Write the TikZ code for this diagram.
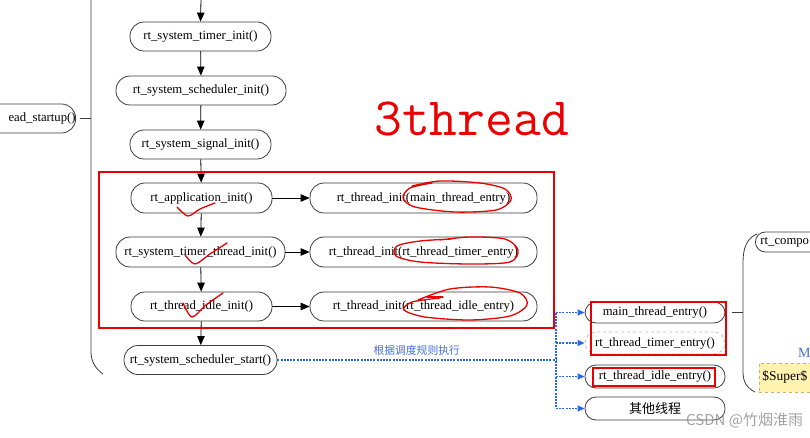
\documentclass[tikz,border=0pt]{standalone}
\usepackage{fontspec}
\setmainfont{Liberation Serif}
\newfontfamily\cjk{Noto Sans CJK SC}
\usetikzlibrary{arrows.meta}
\definecolor{nodeline}{RGB}{60,60,60}
\definecolor{markred}{RGB}{235,0,0}
\definecolor{flowblue}{RGB}{40,105,240}
\definecolor{labelblue}{RGB}{70,110,220}
\definecolor{notefill}{RGB}{255,243,175}
\definecolor{noteline}{RGB}{200,180,110}
\tikzset{
  stadium/.style={draw=nodeline, line width=0.8pt, rounded corners=14pt, minimum height=29pt,
    inner sep=0pt, font=\fontsize{12.7}{14}\selectfont},
  smallstad/.style={stadium, rounded corners=11pt, minimum height=22pt, minimum width=140pt},
  flow/.style={draw=black, line width=0.8pt, -{Triangle[width=7.5pt,length=9pt]}},
  blueflow/.style={draw=flowblue, line width=1.4pt, dash pattern=on 2pt off 1.2pt, -{Triangle[width=6pt,length=7pt,fill=flowblue]}},
  blueline/.style={draw=flowblue, line width=1.4pt, dash pattern=on 2pt off 1.2pt},
  redbox/.style={draw=markred, line width=1.6pt},
  redmark/.style={draw=markred, line width=1.3pt, line cap=round, line join=round},
  brace/.style={draw=nodeline, line width=0.8pt}
}
\begin{document}
\begin{tikzpicture}[x=1pt,y=-1pt]
\useasboundingbox (0,0) rectangle (810,438);

% left partial node
\node[stadium, text width=118pt, align=right, anchor=east] (startup) at (76,118.5) {ead\_startup()};
\coordinate (lt) at (80,118.5);
\coordinate (lb) at (91,118.5);
\draw[brace] (lt) -- (lb);
\draw[brace] (91,0) -- (91,352) .. controls (91,362) and (96,369) .. (103,374);

% main column
\coordinate (top) at (201,0);
\node[stadium, minimum width=141pt] (tinit) at (200.5,36.5) {rt\_system\_timer\_init()};
\node[stadium, minimum width=170pt] (sinit) at (201,90.5) {rt\_system\_scheduler\_init()};
\node[stadium, minimum width=141pt] (sig) at (200.5,144.5) {rt\_system\_signal\_init()};
\node[stadium, minimum width=141pt, minimum height=30pt] (app) at (201.5,198) {rt\_application\_init()};
\node[stadium, minimum width=169pt, minimum height=30pt] (tth) at (200.5,252) {rt\_system\_timer\_thread\_init()};
\node[stadium, minimum width=141pt] (idle) at (201.5,306.5) {rt\_thread\_idle\_init()};
\node[stadium, minimum width=153pt] (start) at (200.5,360) {rt\_system\_scheduler\_start()};

\node[stadium, minimum width=227pt, minimum height=30pt] (ti1) at (423.5,198) {rt\_thread\_init(main\_thread\_entry)};
\node[stadium, minimum width=227pt, minimum height=30pt] (ti2) at (423.5,252) {rt\_thread\_init(rt\_thread\_timer\_entry)};
\node[stadium, minimum width=227pt] (ti3) at (423.5,306.5) {rt\_thread\_init(rt\_thread\_idle\_entry)};

\draw[flow] (top) -- (tinit.north);
\draw[flow] (tinit) -- (sinit);
\draw[flow] (sinit) -- (sig);
\draw[flow] (sig) -- (app);
\draw[flow] (app) -- (tth);
\draw[flow] (tth) -- (idle);
\draw[flow] (idle) -- (start);
\draw[flow] (app) -- (ti1);
\draw[flow] (tth) -- (ti2);
\draw[flow] (idle) -- (ti3);

% red frame
\draw[redbox] (99,172) rectangle (554,328);

% 3thread
\node[text=markred, anchor=base west, inner sep=0pt, font=\ttfamily\fontsize{54}{54}\selectfont] (title) at (374,136) {3thread};

% red hand marks
\draw[redmark] plot[smooth] coordinates {(177,207) (188,216) (200,209) (215,203)};
\draw[redmark] plot[smooth] coordinates {(185,255) (195,264) (210,254) (227,243)};
\draw[redmark] plot[smooth] coordinates {(183,303) (192,317) (206,305) (223,293)};
\draw[redmark] plot[smooth] coordinates {(412,186) (440,181) (480,183) (505,189) (511,200) (496,210) (455,212) (415,207) (403,198) (410,188) (432,183)};
\draw[redmark] plot[smooth] coordinates {(440,240) (470,237) (505,239) (518,250) (510,262) (470,264) (420,262) (396,256) (397,246) (420,241) (452,239)};
\draw[redmark] plot[smooth] coordinates {(418,300) (450,289) (490,287) (520,293) (527,305) (510,316) (470,320) (425,317) (404,310) (412,302) (440,298)};
\draw[redmark] (427,297) -- (443,297);

% right side entries
\node[smallstad, minimum height=21pt] (men) at (655,312.5) {main\_thread\_entry()};
\node[smallstad, draw=black!25, dashed] (ten) at (655,343) {rt\_thread\_timer\_entry()};
\node[smallstad, minimum height=23pt] (ien) at (655,376.5) {rt\_thread\_idle\_entry()};
\node[smallstad, minimum height=23pt, font=\cjk\fontsize{13}{14}\selectfont] (oth) at (655,408.5) {其他线程};
\draw[redbox] (591,302) rectangle (726,355);
\draw[redbox] (593,368) rectangle (715,386);

% blue dotted dispatch
\coordinate (j) at (556,360);
\coordinate (jt) at (556,312.5);
\coordinate (jb) at (556,408.5);
\draw[blueline] (start.east) -- node[above=1pt, text=labelblue, font=\cjk\fontsize{10.8}{12}\selectfont] (lbl) {根据调度规则执行} (j);
\draw[blueline] (jt) -- (jb);
\draw[blueflow] (jt) -- (men.west);
\draw[blueflow] (j |- ten) -- (ten.west);
\draw[blueflow] (j |- ien) -- (ien.west);
\draw[blueflow] (jb) -- (oth.west);

% right brace
\coordinate (rt) at (732,312.5);
\coordinate (rb) at (743,312.5);
\draw[brace] (rt) -- (rb);
\draw[brace] (757,234) .. controls (747,238) and (743,248) .. (743,262) -- (743,372) .. controls (743,382) and (747,388) .. (755,392);

\node[stadium, rounded corners=10pt, minimum height=20pt, text width=120pt, align=left, anchor=west] (compo) at (755,242) {\hspace*{5pt}rt\_compo};
\node[text=labelblue, anchor=west, inner sep=0pt, font=\fontsize{14}{14}\selectfont] (mtext) at (798,353) {M};
\node[draw=noteline, fill=notefill, dashed, line width=0.7pt, minimum height=29pt, text width=90pt, align=left, anchor=west, inner sep=3pt, font=\fontsize{13.5}{14}\selectfont] (note) at (759,377.5) {\$Super\$};

% watermark
\node[text=black!45, opacity=0.8, font=\cjk\fontsize{15}{15}\selectfont, anchor=west, inner sep=0pt] (wm) at (686,420) {CSDN @竹烟淮雨};
\end{tikzpicture}
\end{document}
